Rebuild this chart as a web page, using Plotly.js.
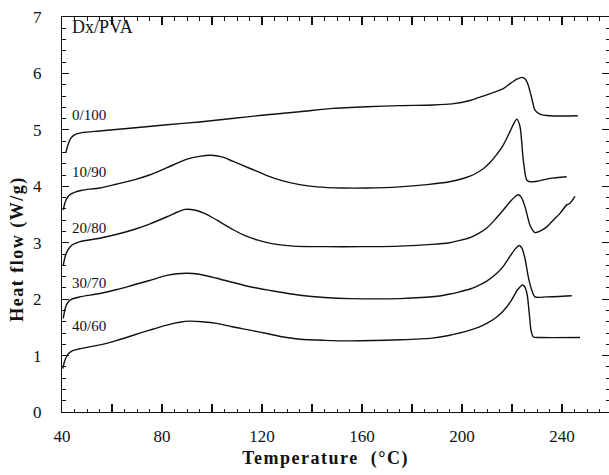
<!DOCTYPE html>
<html>
<head>
<meta charset="utf-8">
<script src="https://cdn.plot.ly/plotly-3.0.1.min.js"></script>
<style>
  html, body { margin: 0; padding: 0; background: #fff; }
  #chart { width: 609px; height: 475px; }
  /* widened lettering for the two axis titles */
  g.annotation[data-index="0"] text,
  g.annotation[data-index="1"] text { letter-spacing: 1.5px; }
</style>
</head>
<body>
<div id="chart"></div>
<script>
// DSC heat-flow curves for dextran / PVA blends
const seriesNames = ['0/100', '10/90', '20/80', '30/70', '40/60'];

const temp_0_100 = [41.5, 42.5, 43.5, 45, 48, 55, 65, 82, 95, 108, 120, 135, 148.5, 162, 175, 188.5, 196, 203.2, 206.5, 209.9, 213, 216.5, 219.2, 222, 223.9, 225.3, 226.5, 227.9, 229.2, 231.2, 235.2, 246.3];
const heat_0_100 = [4.59, 4.75, 4.85, 4.91, 4.95, 4.98, 5.02, 5.09, 5.14, 5.2, 5.26, 5.32, 5.38, 5.41, 5.43, 5.44, 5.46, 5.52, 5.57, 5.62, 5.67, 5.73, 5.82, 5.9, 5.93, 5.9, 5.79, 5.56, 5.35, 5.28, 5.25, 5.25];

const temp_10_90 = [40.5, 41.3, 42.3, 43.5, 45.5, 48, 55, 62, 68.5, 75, 82, 90, 95, 99.5, 104, 108.5, 115, 122, 128, 135, 142, 152, 162, 175, 186, 195, 199, 203.2, 206, 208.5, 211.2, 214, 216.5, 219, 220.8, 221.9, 223.2, 224.5, 225.9, 227.2, 230, 235.2, 241.9];
const heat_10_90 = [3.58, 3.72, 3.81, 3.86, 3.9, 3.93, 3.97, 4.04, 4.11, 4.2, 4.33, 4.48, 4.53, 4.55, 4.52, 4.44, 4.32, 4.19, 4.1, 4.03, 3.99, 3.97, 3.97, 3.99, 4.03, 4.08, 4.12, 4.18, 4.24, 4.31, 4.42, 4.57, 4.73, 4.95, 5.12, 5.19, 5.06, 4.47, 4.11, 4.08, 4.09, 4.14, 4.17];

const temp_20_80 = [40.5, 41.3, 42.5, 44, 47.2, 55, 62, 68.5, 75, 82, 86, 89.2, 93, 97, 102, 108.5, 113, 118, 124.5, 132.5, 145, 160, 175.2, 188, 195, 200, 203.2, 206.5, 209.9, 213, 216.5, 219.5, 221.3, 222.5, 223.8, 225.2, 227.2, 229.2, 231, 233.9, 236.5, 239.2, 241.9, 243.2, 245.2];
const heat_20_80 = [2.6, 2.76, 2.88, 2.96, 3.02, 3.08, 3.15, 3.23, 3.33, 3.46, 3.54, 3.59, 3.58, 3.52, 3.4, 3.23, 3.13, 3.05, 2.98, 2.94, 2.93, 2.93, 2.94, 2.97, 3.0, 3.05, 3.09, 3.16, 3.26, 3.4, 3.58, 3.74, 3.82, 3.85, 3.8, 3.64, 3.31, 3.18, 3.2, 3.28, 3.4, 3.52, 3.67, 3.7, 3.82];

const temp_30_70 = [40.5, 41.2, 42, 43.9, 47, 55.2, 62, 68.5, 75, 81.9, 86, 89.9, 95, 101.9, 108, 115.2, 125, 135.2, 145, 155.2, 175.2, 190, 195.2, 199, 203.2, 206.5, 209.9, 213.5, 216.5, 219.5, 221.5, 222.9, 224, 225.2, 226.5, 227.9, 229.2, 233.9, 243.9];
const heat_30_70 = [1.66, 1.82, 1.92, 2.0, 2.04, 2.1, 2.17, 2.25, 2.33, 2.42, 2.45, 2.46, 2.44, 2.37, 2.3, 2.22, 2.14, 2.07, 2.03, 2.01, 2.01, 2.05, 2.09, 2.13, 2.18, 2.24, 2.32, 2.44, 2.58, 2.78, 2.9, 2.95, 2.9, 2.72, 2.4, 2.16, 2.04, 2.04, 2.06];

const temp_40_60 = [40.3, 41.2, 42.3, 43.9, 47, 55.2, 62, 68.5, 75, 81.9, 87, 91.2, 96, 101.9, 108, 115.2, 122, 128.5, 135.2, 145, 155.2, 175.2, 188, 195.2, 199, 203.2, 206.5, 209.9, 213.5, 216.5, 219.5, 222.3, 224.3, 225.3, 226.1, 226.9, 227.6, 228.5, 231.2, 247.2];
const heat_40_60 = [0.77, 0.92, 1.02, 1.08, 1.12, 1.19, 1.27, 1.36, 1.45, 1.54, 1.59, 1.61, 1.6, 1.57, 1.51, 1.45, 1.39, 1.33, 1.29, 1.27, 1.26, 1.28, 1.31, 1.36, 1.4, 1.45, 1.5, 1.57, 1.67, 1.79, 1.96, 2.17, 2.25, 2.2, 2.07, 1.75, 1.45, 1.33, 1.32, 1.32];

// label anchor for each curve (left edge, vertical centre)
const labelTemp = [43.2, 43.2, 43.2, 43.2, 43.2];
const labelHeat = [5.26, 4.26, 3.26, 2.29, 1.52];

const xTickVals = [40, 60, 80, 100, 120, 140, 160, 180, 200, 220, 240];
const xTickText = ['40', '', '80', '', '120', '', '160', '', '200', '', '240'];
const yTickVals = [0, 1, 2, 3, 4, 5, 6, 7];

const temps = [temp_0_100, temp_10_90, temp_20_80, temp_30_70, temp_40_60];
const heats = [heat_0_100, heat_10_90, heat_20_80, heat_30_70, heat_40_60];

const serif = 'Liberation Serif, Times New Roman, serif';

const traces = seriesNames.map((name, i) => ({
  type: 'scatter',
  mode: 'lines',
  name: name,
  x: temps[i],
  y: heats[i],
  line: { color: '#111', width: 1.4, shape: 'spline', smoothing: 0.7 },
  hoverinfo: 'skip'
}));

const annotations = [
  {
    text: 'Temperature  (°C)', xref: 'paper', yref: 'paper',
    x: 0.482, y: -0.117, xanchor: 'center', yanchor: 'middle', showarrow: false,
    font: { family: serif, size: 18, color: '#111', weight: 'bold' }
  },
  {
    text: 'Heat flow (W/g)', xref: 'paper', yref: 'paper',
    x: -0.081, y: 0.413, xanchor: 'center', yanchor: 'middle', showarrow: false,
    textangle: -90,
    font: { family: serif, size: 18, color: '#111', weight: 'bold' }
  },
  {
    text: 'Dx/PVA', xref: 'x', yref: 'y', x: 43.2, y: 6.82,
    xanchor: 'left', yanchor: 'middle', showarrow: false,
    font: { family: serif, size: 18, color: '#111' }
  }
].concat(seriesNames.map((name, i) => ({
  text: name, xref: 'x', yref: 'y', x: labelTemp[i], y: labelHeat[i],
  xanchor: 'left', yanchor: 'middle', showarrow: false,
  font: { family: serif, size: 15, color: '#111' }
})));

const axisCommon = {
  showgrid: false, zeroline: false,
  showline: true, linecolor: '#111', linewidth: 1.2,
  mirror: 'allticks',
  ticks: 'inside', tickcolor: '#111', tickwidth: 1.1,
  tickfont: { family: serif, size: 17, color: '#111' }
};

const layout = {
  width: 609, height: 475,
  margin: { l: 62, r: 0, t: 17, b: 63 },
  paper_bgcolor: '#fff', plot_bgcolor: '#fff',
  showlegend: false,
  xaxis: Object.assign({}, axisCommon, {
    range: [40, 258.8],
    tickmode: 'array', tickvals: xTickVals, ticktext: xTickText,
    ticklen: 8, ticklabelstandoff: 8,
    minor: { dtick: 5, tick0: 40, ticks: 'inside', ticklen: 3.5, tickcolor: '#111', tickwidth: 1, showgrid: false }
  }),
  yaxis: Object.assign({}, axisCommon, {
    range: [0, 7],
    tickmode: 'array', tickvals: yTickVals,
    ticklen: 7, ticklabelstandoff: 16,
    minor: { dtick: 0.2, tick0: 0, ticks: 'inside', ticklen: 3.5, tickcolor: '#111', tickwidth: 1, showgrid: false }
  }),
  annotations: annotations
};

Plotly.newPlot('chart', traces, layout, { displayModeBar: false, staticPlot: true });
</script>
</body>
</html>
